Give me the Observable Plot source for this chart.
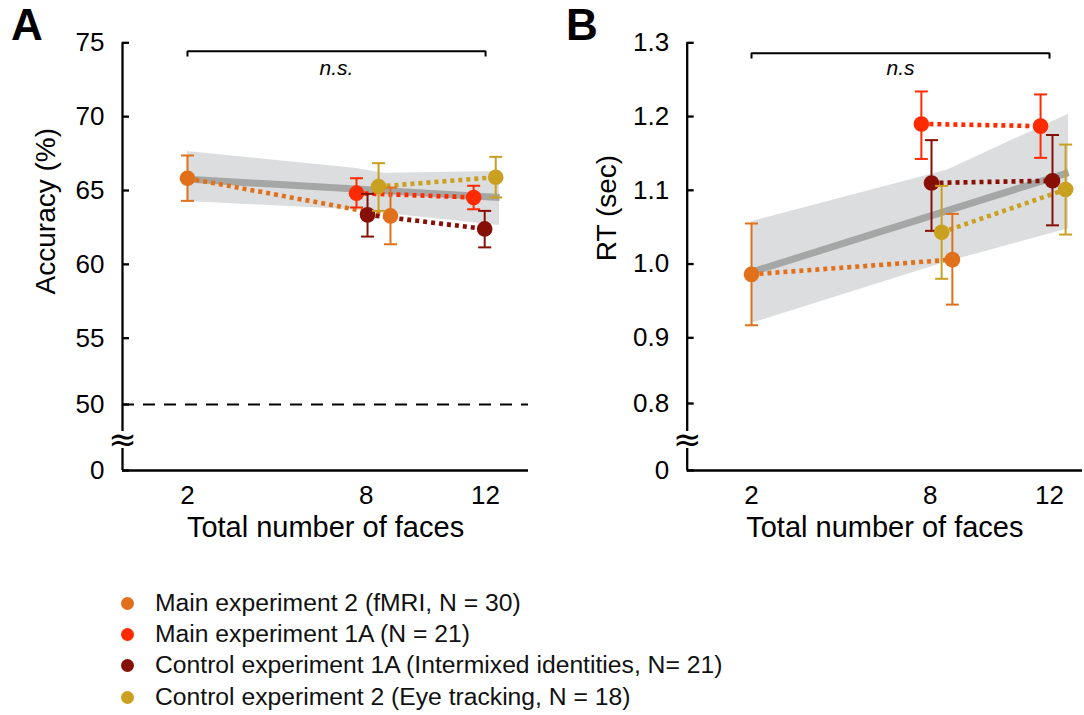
<!DOCTYPE html>
<html><head><meta charset="utf-8">
<script src="https://cdn.jsdelivr.net/npm/d3@7"></script>
<script src="https://cdn.jsdelivr.net/npm/@observablehq/plot@0.6"></script>
<style>
body{margin:0;background:#fff;font-family:"Liberation Sans",Arial,sans-serif;}
#wrap{position:relative;width:1084px;height:715px;overflow:hidden;background:#fff;}
#wrap svg{position:absolute;top:0;}
.letter{position:absolute;font-weight:bold;font-size:44px;line-height:44px;color:#000;}
.row{position:absolute;left:155px;font-size:24.7px;line-height:30px;white-space:nowrap;color:#111;}
.ldot{position:absolute;left:121px;width:13px;height:13px;border-radius:50%;}
</style></head><body><div id="wrap"></div>
<script>
// ---------- shared ----------
const seriesNames = [
  "Main experiment 2 (fMRI, N = 30)",
  "Main experiment 1A (N = 21)",
  "Control experiment 1A (Intermixed identities, N= 21)",
  "Control experiment 2 (Eye tracking, N = 18)"
];
const seriesColors = ["#e0701a", "#ff2a00", "#861005", "#c9a020"];
const xTicks = [2, 8, 12];

// ---------- Panel A: accuracy (%) ----------
const accYTicks = [0, 50, 55, 60, 65, 70, 75];
const accMain2X = [2.0, 8.81];   const accMain2 = [65.83, 63.28]; const accMain2Lo = [64.30, 61.36]; const accMain2Hi = [67.37, 65.20];
const accMain1AX = [7.67, 11.60]; const accMain1A = [64.82, 64.53]; const accMain1ALo = [63.85, 63.73]; const accMain1AHi = [65.83, 65.32];
const accCtrl1AX = [8.04, 11.97]; const accCtrl1A = [63.35, 62.40]; const accCtrl1ALo = [61.88, 61.15]; const accCtrl1AHi = [64.77, 63.62];
const accCtrl2X = [8.41, 12.34];  const accCtrl2 = [65.27, 65.90];  const accCtrl2Lo = [63.62, 64.53];  const accCtrl2Hi = [66.85, 67.28];
const accFitX = [2, 12.47]; const accFitY = [65.77, 64.52];
const accBandX = [2, 7.6, 8.6, 12.47];
const accBandLo = [64.26, 63.69, 63.46, 62.63];
const accBandHi = [67.64, 66.50, 66.17, 66.29];
const accChance = [50];

// ---------- Panel B: RT (sec) ----------
const rtYTicks = [0, 0.8, 0.9, 1.0, 1.1, 1.2, 1.3];
const rtMain2X = [2.0, 8.74];   const rtMain2 = [0.986, 1.006]; const rtMain2Lo = [0.917, 0.945]; const rtMain2Hi = [1.055, 1.068];
const rtMain1AX = [7.70, 11.70]; const rtMain1A = [1.190, 1.187]; const rtMain1ALo = [1.1425, 1.144]; const rtMain1AHi = [1.234, 1.230];
const rtCtrl1AX = [8.04, 12.10]; const rtCtrl1A = [1.110, 1.113]; const rtCtrl1ALo = [1.045, 1.0525]; const rtCtrl1AHi = [1.168, 1.175];
const rtCtrl2X = [8.38, 12.54];  const rtCtrl2 = [1.043, 1.101];  const rtCtrl2Lo = [0.980, 1.040];  const rtCtrl2Hi = [1.106, 1.162];
const rtFitX = [2, 12.64]; const rtFitY = [0.989, 1.124];
const rtBandX = [2, 8.58, 12.64];
const rtBandLo = [0.9195, 1.003, 1.048];
const rtBandHi = [1.0574, 1.1275, 1.2031];

// ---------- helpers ----------
const rows = (xs, ys, lo, hi) => xs.map((x, i) => ({x, y: ys[i], lo: lo[i], hi: hi[i]}));
const capSymbol = {draw(ctx, size) { const w = Math.sqrt(size / Math.PI); ctx.moveTo(-w, 0); ctx.lineTo(w, 0); }};
const FONT = "Liberation Sans, Arial, sans-serif";

function panel(o) {
  const x0 = o.xDomain[0];
  const yTop = o.yDomain[o.yDomain.length - 1];
  const marks = [];
  marks.push(Plot.areaY(o.bandX.map((x, i) => ({x, lo: o.bandLo[i], hi: o.bandHi[i]})), {x: "x", y1: "lo", y2: "hi", fill: "#dcddde"}));
  marks.push(Plot.line(o.fitX.map((x, i) => ({x, y: o.fitY[i]})), {x: "x", y: "y", stroke: "#a4a7a6", strokeWidth: 7, strokeLinecap: "butt"}));
  if (o.chance) marks.push(Plot.ruleY(o.chance, {stroke: "#000", strokeWidth: 2, strokeDasharray: "12,9"}));
  marks.push(Plot.ruleX([{a: 0, b: o.breakLo}, {a: o.breakHi, b: yTop}], {x: () => x0, y1: "a", y2: "b", stroke: "#000", strokeWidth: 2.3}));
  marks.push(Plot.ruleY([0], {stroke: "#000", strokeWidth: 2.3}));
  marks.push(Plot.text(["≈"], {x: () => x0, y: () => (o.breakLo + o.breakHi) / 2, text: d => d, fontSize: 34, fill: "#000", fontFamily: "DejaVu Sans, sans-serif"}));
  o.groups.forEach((g, k) => {
    marks.push(Plot.line(g, {x: "x", y: "y", stroke: seriesColors[k], strokeWidth: 4.6, strokeDasharray: "4,4", strokeLinecap: "butt"}));
  });
  o.groups.forEach((g, k) => {
    const c = seriesColors[k];
    marks.push(Plot.ruleX(g, {x: "x", y1: "lo", y2: "hi", stroke: c, strokeWidth: 2}));
    marks.push(Plot.dot(g, {x: "x", y: "lo", symbol: capSymbol, r: 6.5, stroke: c, strokeWidth: 2, fill: "none"}));
    marks.push(Plot.dot(g, {x: "x", y: "hi", symbol: capSymbol, r: 6.5, stroke: c, strokeWidth: 2, fill: "none"}));
    marks.push(Plot.dot(g, {x: "x", y: "y", r: 7.8, fill: c, stroke: "none"}));
  });
  marks.push(Plot.axisY({ticks: o.yTicks, tickFormat: o.yFmt, tickSize: -7, tickPadding: 25, strokeWidth: 2.3, label: null, fontSize: 26}));
  marks.push(Plot.axisX({ticks: xTicks, tickSize: 0, tickPadding: 15, label: null, fontSize: 26}));
  marks.push(Plot.text(["Total number of faces"], {frameAnchor: "bottom", dy: 57, lineAnchor: "middle", textAnchor: "middle", text: d => d, fontSize: 29, fill: "#000"}));
  marks.push(Plot.text([o.yLabel], {frameAnchor: "left", y: () => o.yLabelY, dx: o.yLabelDx, rotate: -90, textAnchor: "middle", lineAnchor: "middle", text: d => d, fontSize: 28, fill: "#000"}));
  marks.push(Plot.line(o.bracket, {x: "x", y: "y", stroke: "#000", strokeWidth: 2, strokeLinecap: "butt", strokeLinejoin: "miter"}));
  marks.push(Plot.text([o.ns], {x: () => 7, y: () => o.nsY, text: d => d, fontSize: 21, fontStyle: "italic", fill: "#000"}));

  const svg = Plot.plot({
    width: o.width, height: 560,
    marginLeft: o.marginLeft, marginRight: o.marginRight, marginTop: 42, marginBottom: 90,
    style: {fontFamily: FONT, fontSize: "26px", color: "#000", background: "transparent", overflow: "visible"},
    x: {type: "linear", domain: o.xDomain, label: null},
    y: {type: "linear", domain: o.yDomain, range: o.yRange, label: null},
    marks
  });
  svg.style.left = o.left + "px";
  return svg;
}

const groupsA = [
  rows(accMain2X, accMain2, accMain2Lo, accMain2Hi),
  rows(accMain1AX, accMain1A, accMain1ALo, accMain1AHi),
  rows(accCtrl1AX, accCtrl1A, accCtrl1ALo, accCtrl1AHi),
  rows(accCtrl2X, accCtrl2, accCtrl2Lo, accCtrl2Hi)
];
const groupsB = [
  rows(rtMain2X, rtMain2, rtMain2Lo, rtMain2Hi),
  rows(rtMain1AX, rtMain1A, rtMain1ALo, rtMain1AHi),
  rows(rtCtrl1AX, rtCtrl1A, rtCtrl1ALo, rtCtrl1AHi),
  rows(rtCtrl2X, rtCtrl2, rtCtrl2Lo, rtCtrl2Hi)
];

const wrap = document.getElementById("wrap");
wrap.appendChild(panel({
  left: 0, width: 545, marginLeft: 122, marginRight: 17,
  xDomain: [-0.18, 13.44],
  yDomain: [0, 50, 55, 75], yRange: [470, 404, 337.7, 42.3],
  yTicks: accYTicks, yFmt: d => String(d),
  groups: groupsA, fitX: accFitX, fitY: accFitY,
  bandX: accBandX, bandLo: accBandLo, bandHi: accBandHi,
  chance: accChance, breakLo: 16.7, breakHi: 29.5,
  bracket: [{x: 2, y: 74.07}, {x: 2, y: 74.43}, {x: 12, y: 74.43}, {x: 12, y: 74.07}],
  ns: "n.s.", nsY: 73.26,
  yLabel: "Accuracy (%)", yLabelY: 63.6, yLabelDx: -76
}));
wrap.appendChild(panel({
  left: 545, width: 539, marginLeft: 141.7, marginRight: 2,
  xDomain: [-0.158, 13.107],
  yDomain: [0, 0.8, 0.9, 1.3], yRange: [470, 403, 337.3, 42.3],
  yTicks: rtYTicks, yFmt: d => d === 0 ? "0" : d.toFixed(1),
  groups: groupsB, fitX: rtFitX, fitY: rtFitY,
  bandX: rtBandX, bandLo: rtBandLo, bandHi: rtBandHi,
  chance: null, breakLo: 0.263, breakHi: 0.466,
  bracket: [{x: 2, y: 1.2787}, {x: 2, y: 1.2859}, {x: 12, y: 1.2859}, {x: 12, y: 1.2787}],
  ns: "n.s", nsY: 1.265,
  yLabel: "RT (sec)", yLabelY: 1.076, yLabelDx: -80
}));

[["A", 11], ["B", 566]].forEach(([t, l]) => {
  const d = document.createElement("div");
  d.className = "letter"; d.textContent = t; d.style.left = l + "px"; d.style.top = "3px";
  wrap.appendChild(d);
});

const legendY = [603, 634, 665, 697];
seriesNames.forEach((name, i) => {
  const dot = document.createElement("div");
  dot.className = "ldot"; dot.style.background = seriesColors[i]; dot.style.top = (legendY[i] - 6.5) + "px";
  wrap.appendChild(dot);
  const r = document.createElement("div");
  r.className = "row"; r.textContent = name; r.style.top = (legendY[i] - 15) + "px";
  wrap.appendChild(r);
});
</script></body></html>
